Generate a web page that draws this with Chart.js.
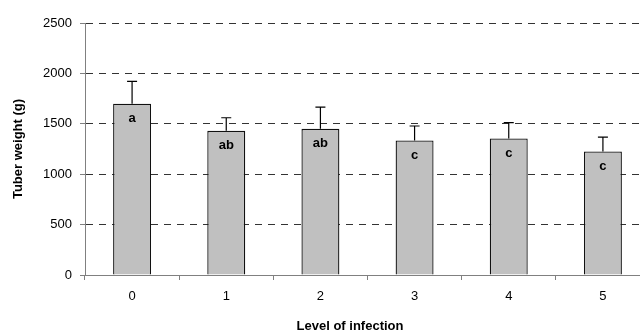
<!DOCTYPE html>
<html>
<head>
<meta charset="utf-8">
<script src="https://cdn.jsdelivr.net/npm/chart.js@4/dist/chart.umd.min.js"></script>
<style>
  html, body { margin: 0; padding: 0; background: #fff; overflow: hidden; }
</style>
</head>
<body>
<canvas id="tuberChart" width="650" height="331"></canvas>
<script>
// data
var levels = ['0', '1', '2', '3', '4', '5'];
var tuberWeight = [1700, 1430, 1450, 1335, 1355, 1225];
var errorUp = [220, 130, 215, 143, 157, 143];
var groupLetters = ['a', 'ab', 'ab', 'c', 'c', 'c'];
var yTicks = [0, 500, 1000, 1500, 2000, 2500];

var fontFam = '"Liberation Sans", Arial, sans-serif';

// error bars (upward only) + letters inside the bars
var barExtras = {
    id: 'barExtras',
    afterDatasetsDraw: function(chart) {
        var ctx = chart.ctx;
        var y = chart.scales.y;
        var meta = chart.getDatasetMeta(0);
        ctx.save();
        meta.data.forEach(function(bar, i) {
            var top = y.getPixelForValue(tuberWeight[i] + errorUp[i]);
            ctx.strokeStyle = '#000';
            ctx.lineWidth = 1.2;
            ctx.beginPath();
            ctx.moveTo(bar.x, bar.y);
            ctx.lineTo(bar.x, top);
            ctx.moveTo(bar.x - 5, top);
            ctx.lineTo(bar.x + 5, top);
            ctx.stroke();

            ctx.fillStyle = '#000';
            ctx.font = 'bold 13px ' + fontFam;
            ctx.textAlign = 'center';
            ctx.textBaseline = 'middle';
            ctx.fillText(groupLetters[i], bar.x, bar.y + 15);
        });
        // x axis title (centred on the whole figure, not the plot)
        ctx.font = 'bold 13px ' + fontFam;
        ctx.textAlign = 'center';
        ctx.textBaseline = 'middle';
        ctx.fillText('Level of infection', 350, 326);
        ctx.restore();
    }
};

var ctx = document.getElementById('tuberChart').getContext('2d');
var tuberChart = new Chart(ctx, {
    type: 'bar',
    data: {
        labels: levels,
        datasets: [{
            data: tuberWeight,
            backgroundColor: '#c0c0c0',
            borderColor: '#111',
            borderWidth: 1.3,
            borderSkipped: 'bottom',
            barPercentage: 0.403,
            categoryPercentage: 1
        }]
    },
    options: {
        responsive: false,
        animation: false,
        layout: { padding: { top: 23, left: 0, right: 0, bottom: 0 } },
        plugins: {
            legend: { display: false },
            tooltip: { enabled: false }
        },
        scales: {
            x: {
                afterFit: function(scale) { scale.height = 56; },
                grid: {
                    drawOnChartArea: false,
                    drawTicks: true,
                    tickLength: 5,
                    tickColor: '#808080',
                    offset: true
                },
                border: { color: '#808080', width: 1 },
                ticks: {
                    color: '#000',
                    padding: 9,
                    font: { family: fontFam, size: 13 }
                }
            },
            y: {
                min: 0,
                max: 2500,
                afterFit: function(scale) { scale.width = 85; },
                afterBuildTicks: function(scale) {
                    scale.ticks = yTicks.map(function(v) { return { value: v }; });
                },
                grid: {
                    color: function(c) { return c.tick && c.tick.value === 0 ? 'rgba(0,0,0,0)' : '#333'; },
                    lineWidth: 1,
                    tickBorderDash: [],
                    tickColor: '#808080',
                    tickLength: 5
                },
                border: { color: '#808080', width: 1, dash: [7, 6] },
                ticks: {
                    color: '#000',
                    padding: 8,
                    font: { family: fontFam, size: 13 },
                    callback: function(v) { return String(v); }
                },
                title: {
                    display: true,
                    text: 'Tuber weight (g)',
                    color: '#000',
                    padding: { top: 11, bottom: 0 },
                    font: { family: fontFam, size: 13, weight: 'bold' }
                }
            }
        }
    },
    plugins: [barExtras]
});
</script>
</body>
</html>
